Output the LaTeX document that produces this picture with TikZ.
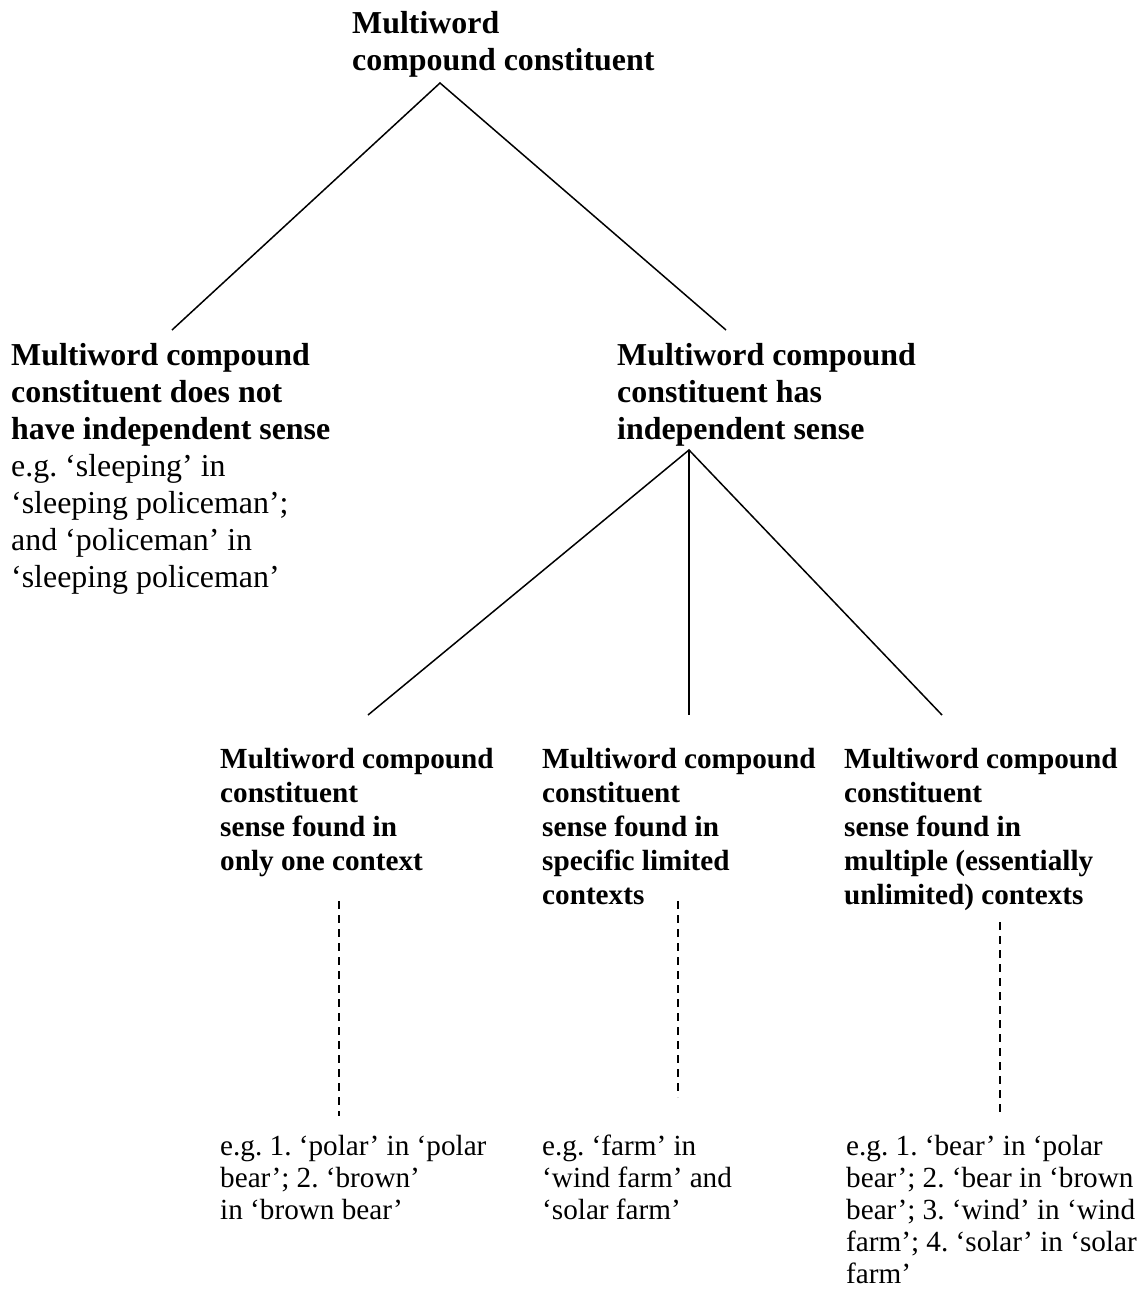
\documentclass[tikz,border=0pt]{standalone}
\usepackage{fontspec}
\setmainfont{Liberation Serif}
\frenchspacing
% a text block: rows stacked at \baselineskip, baseline on the first row
\newcommand\blk[1]{\vtop{#1}}
\newcommand\row[1]{\hbox{#1}}
\begin{document}
\begin{tikzpicture}[x=1pt,y=-1pt,
  big/.style={anchor=base west, inner sep=0pt, font=\fontsize{31.9}{37}\selectfont},
  bigbold/.style={big, font=\fontsize{31.9}{37}\selectfont\bfseries},
  headbold/.style={anchor=base west, inner sep=0pt, font=\fontsize{29.2}{34}\selectfont\bfseries},
  example/.style={anchor=base west, inner sep=0pt, font=\fontsize{29.2}{32}\selectfont},
  branch/.style={line width=1.5pt},
  guide/.style={line width=1.8pt, dash pattern=on 8pt off 6pt}]

\useasboundingbox (0,0) rectangle (1143,1293);

% tree labels
\node[bigbold] (root) at (352,33) {\blk{\row{Multiword}\row{compound constituent}}};

\node[big] (nosense) at (11,365) {\blk{%
  \row{\bfseries Multiword compound}%
  \row{\bfseries constituent does not}%
  \row{\bfseries have independent sense}%
  \row{e.g. ‘sleeping’ in}%
  \row{‘sleeping policeman’;}%
  \row{and ‘policeman’ in}%
  \row{‘sleeping policeman’}}};

\node[bigbold] (hassense) at (617,365) {\blk{\row{Multiword compound}\row{constituent has}\row{independent sense}}};

\node[headbold] (one) at (220,768) {\blk{\row{Multiword compound}\row{constituent}\row{sense found in}\row{only one context}}};
\node[headbold] (limited) at (542,768) {\blk{\row{Multiword compound}\row{constituent}\row{sense found in}\row{specific limited}\row{contexts}}};
\node[headbold] (multiple) at (844,768) {\blk{\row{Multiword compound}\row{constituent}\row{sense found in}\row{multiple (essentially}\row{unlimited) contexts}}};

\node[example] (exone) at (220,1155) {\blk{\row{e.g. 1. ‘polar’ in ‘polar}\row{bear’; 2. ‘brown’}\row{in ‘brown bear’}}};
\node[example] (exlimited) at (542,1155) {\blk{\row{e.g. ‘farm’ in}\row{‘wind farm’ and}\row{‘solar farm’}}};
\node[example] (exmultiple) at (846,1155) {\blk{\row{e.g. 1. ‘bear’ in ‘polar}\row{bear’; 2. ‘bear in ‘brown}\row{bear’; 3. ‘wind’ in ‘wind}\row{farm’; 4. ‘solar’ in ‘solar}\row{farm’}}};

% branch end points
\coordinate (rootfoot) at (440,83);
\coordinate (nosensetop) at (172,330);
\coordinate (hassensetop) at (726,330);
\coordinate (hassensefoot) at (689,450);
\coordinate (onetop) at (368,715);
\coordinate (limitedtop) at (689,715);
\coordinate (multipletop) at (942,715);

\draw[branch] (nosensetop) -- (rootfoot) -- (hassensetop);
\draw[branch] (onetop) -- (hassensefoot) -- (multipletop);
\draw[branch] (hassensefoot) -- (limitedtop);

% dashed links from senses to their examples
\coordinate (onefoot) at (339,901);
\coordinate (exonetop) at (339,1116);
\coordinate (limitedfoot) at (678,901);
\coordinate (exlimitedtop) at (678,1097);
\coordinate (multiplefoot) at (1000,922);
\coordinate (exmultipletop) at (1000,1117);

\draw[guide] (onefoot) -- (exonetop);
\draw[guide] (limitedfoot) -- (exlimitedtop);
\draw[guide] (multiplefoot) -- (exmultipletop);
\end{tikzpicture}
\end{document}
